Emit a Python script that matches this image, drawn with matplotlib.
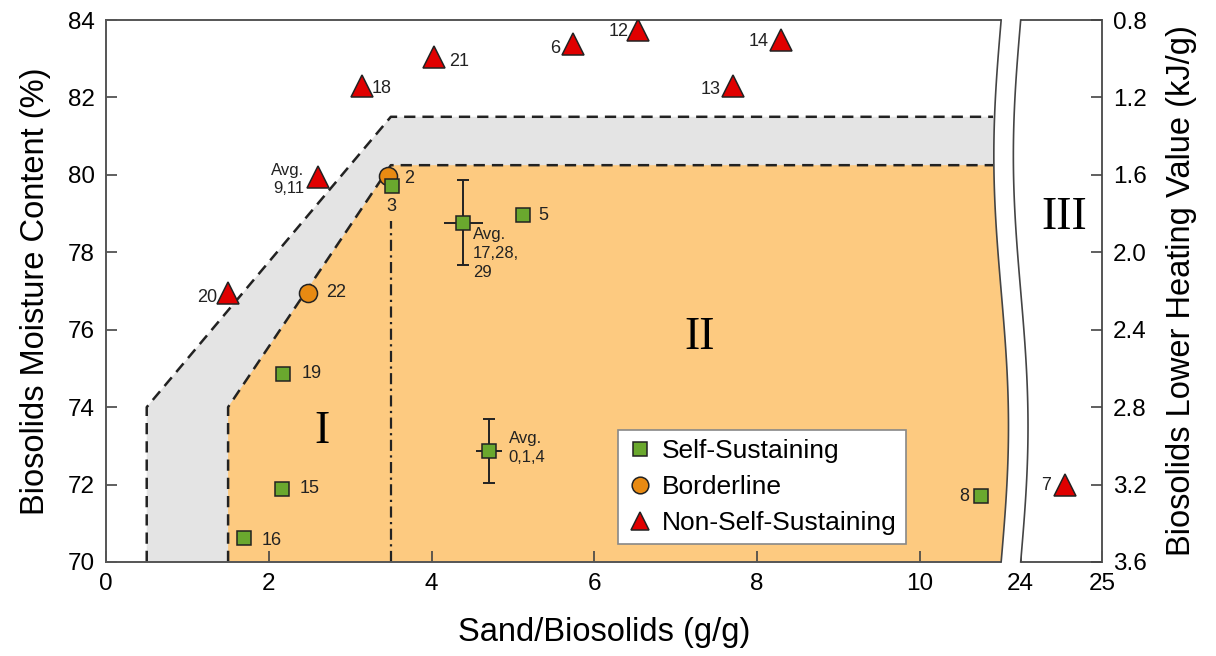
import numpy as np
import matplotlib
matplotlib.use('Agg')
import matplotlib.pyplot as plt
from matplotlib.lines import Line2D

plt.rcParams['font.family'] = ['Liberation Sans', 'DejaVu Sans']

# sand/biosolids ratio (g/g) and moisture content (%) for each run
self_x = [3.51, 5.13, 2.18, 2.16, 1.69, 10.75]
self_y = [79.72, 78.96, 74.86, 71.89, 70.62, 71.70]
self_lbl = ['3', '5', '19', '15', '16', '8']

avg_x = [4.39, 4.71]
avg_y = [78.76, 72.87]
avg_xerr = [0.24, 0.16]
avg_yerr = [1.10, 0.82]
avg_lbl = ['Avg.\n17,28,\n29', 'Avg.\n0,1,4']

border_x = [3.47, 2.48]
border_y = [79.97, 76.95]
border_lbl = ['2', '22']

non_x = [6.54, 5.74, 8.29, 7.71, 4.03, 3.14, 2.61, 1.50, 24.54]
non_y = [83.74, 83.38, 83.48, 82.30, 83.05, 82.30, 79.95, 76.95, 72.00]
non_lbl = ['12', '6', '14', '13', '21', '18', 'Avg.\n9,11', '20', '7']

# operating zone boundaries
outer_x = [0.5, 0.5, 3.5]
outer_y = [70, 74, 81.5]
inner_x = [1.5, 1.5, 3.5]
inner_y = [70, 74, 80.25]

mc_ticks = [70, 72, 74, 76, 78, 80, 82, 84]
lhv_ticks = [0.8, 1.2, 1.6, 2.0, 2.4, 2.8, 3.2, 3.6]

# broken x axis: 0..11 on the left, 24..25 on the right
LEFT_END = 11.0
RIGHT_START = 11.24


def ux(x):
    x = np.asarray(x, dtype=float)
    return np.where(x > 20, x - 24 + RIGHT_START, x)


def wave(y, base):
    y = np.asarray(y, dtype=float)
    return base + 0.09 * np.sin(2 * np.pi * (y - 70) / 14)


fig = plt.figure(figsize=(12.16, 6.56), dpi=100)
ax = fig.add_axes([0.0872, 0.1433, 0.8191, 0.8262])
ax.set_xlim(0, RIGHT_START + 1)
ax.set_ylim(70, 84)

orange_fill = '#fdca80'
gray_fill = '#e4e4e4'

# shaded zones, closed on the right by the wavy break
ys_o = np.linspace(81.5, 70, 60)
poly_o = list(zip(outer_x, outer_y)) + list(zip(wave(ys_o, LEFT_END), ys_o))
ax.fill([p[0] for p in poly_o], [p[1] for p in poly_o], color=gray_fill, lw=0, zorder=0.5)
ys_i = np.linspace(80.25, 70, 60)
poly_i = list(zip(inner_x, inner_y)) + list(zip(wave(ys_i, LEFT_END), ys_i))
ax.fill([p[0] for p in poly_i], [p[1] for p in poly_i], color=orange_fill, lw=0, zorder=0.6)

dash = dict(color='#222222', lw=1.8, ls=(0, (4.5, 2.8)), zorder=1)
ax.plot(outer_x + [LEFT_END - 0.1], outer_y + [outer_y[-1]], **dash)
ax.plot(inner_x + [LEFT_END - 0.1], inner_y + [inner_y[-1]], **dash)
ax.plot([3.5, 3.5], [70, 78.8], color='#222222', lw=1.6, ls=(0, (5, 2, 1, 2)), zorder=1)

# axis break
ys = np.linspace(70, 84, 100)
ys_pad = np.linspace(69.85, 84.15, 100)
gap_x = np.concatenate([wave(ys_pad, LEFT_END), wave(ys_pad[::-1], RIGHT_START)])
gap_y = np.concatenate([ys_pad, ys_pad[::-1]])
ax.fill(gap_x, gap_y, color='white', lw=0, zorder=3, clip_on=False)
ax.plot(wave(ys, LEFT_END), ys, color='#444444', lw=1.2, zorder=3.2, clip_on=False)
ax.plot(wave(ys, RIGHT_START), ys, color='#444444', lw=1.2, zorder=3.2, clip_on=False)

green = '#6aa82e'
orange = '#e88a12'
red = '#e00000'
edge = '#222222'

ax.errorbar(avg_x, avg_y, yerr=avg_yerr, fmt='none',
            ecolor='#222222', elinewidth=1.4, capsize=4, capthick=1.4, zorder=4)
ax.errorbar(avg_x, avg_y, xerr=avg_xerr, fmt='none',
            ecolor='#222222', elinewidth=1.4, capsize=0, zorder=4)
ax.plot(ux(self_x), self_y, 's', ms=10, mfc=green, mec=edge, mew=1.1, zorder=5)
ax.plot(avg_x, avg_y, 's', ms=10, mfc=green, mec=edge, mew=1.1, zorder=5)
ax.plot(border_x, border_y, 'o', ms=13, mfc=orange, mec=edge, mew=1.1, zorder=4.5)
ax.plot(ux(non_x), non_y, '^', ms=15.5, mfc=red, mec=edge, mew=1.1, zorder=5)

lbl_color = '#222222'
self_off = [(0, -15, 'center'), (11, 0, 'left'), (13, 0, 'left'),
            (13, 0, 'left'), (13, -1.5, 'left'), (-8, 0, 'right')]
for x, y, t, (dx, dy, ha) in zip(ux(self_x), self_y, self_lbl, self_off):
    ax.annotate(t, (x, y), xytext=(dx, dy), textcoords='offset points',
                ha=ha, va='center', fontsize=13, color=lbl_color, zorder=6)

avg_off = [(7, -3), (14, 2)]
avg_va = ['top', 'center']
for x, y, t, (dx, dy), va in zip(avg_x, avg_y, avg_lbl, avg_off, avg_va):
    ax.annotate(t, (x, y), xytext=(dx, dy), textcoords='offset points',
                ha='left', va=va, fontsize=12, color=lbl_color,
                linespacing=1.35, zorder=6)

border_off = [(11, -1.5), (13, 0)]
for x, y, t, (dx, dy) in zip(border_x, border_y, border_lbl, border_off):
    ax.annotate(t, (x, y), xytext=(dx, dy), textcoords='offset points',
                ha='left', va='center', fontsize=13, color=lbl_color, zorder=6)

non_off = [(-7, -1, 'right'), (-9, -3, 'right'), (-9, -1, 'right'),
           (-9, -3, 'right'), (11, -3.5, 'left'), (7, -2, 'left'),
           (-10, -2, 'right'), (-8, -3, 'right'), (-10, -1, 'right')]
for x, y, t, (dx, dy, ha) in zip(ux(non_x), non_y, non_lbl, non_off):
    fs = 12 if t.startswith('Avg') else 13
    ax.annotate(t, (x, y), xytext=(dx, dy), textcoords='offset points',
                ha=ha, va='center', fontsize=fs, color=lbl_color,
                linespacing=1.3, zorder=6)

# zone labels
serif = ['Liberation Serif', 'DejaVu Serif']
ax.text(2.65, 73.36, 'I', family=serif, fontsize=33, ha='center', va='center', zorder=6)
ax.text(7.3, 75.8, 'II', family=serif, fontsize=33, ha='center', va='center', zorder=6)
ax.text(RIGHT_START + 0.54, 78.9, 'III', family=serif, fontsize=33, ha='center', va='center', zorder=6)

# ticks and labels
ax.set_xticks([0, 2, 4, 6, 8, 10, RIGHT_START, RIGHT_START + 1])
ax.set_xticklabels(['0', '2', '4', '6', '8', '10', '24', '25'])
ax.set_yticks(mc_ticks)
ax.tick_params(direction='in', length=8, width=1.2, color='#444444',
               labelsize=17.5, pad=8)
for s in ax.spines.values():
    s.set_color('#555555')
    s.set_linewidth(1.4)
ax.set_xlabel('Sand/Biosolids (g/g)', fontsize=23.5, labelpad=16)
ax.set_ylabel('Biosolids Moisture Content (%)', fontsize=23.5, labelpad=12)

ax2 = ax.twinx()
ax2.set_ylim(3.6, 0.8)
ax2.set_yticks(lhv_ticks)
ax2.set_yticklabels(['%.1f' % v for v in lhv_ticks])
ax2.tick_params(direction='in', length=8, width=1.2, color='#444444',
                labelsize=17.5, pad=8)
for s in ax2.spines.values():
    s.set_visible(False)
ax2.set_ylabel('Biosolids Lower Heating Value (kJ/g)', fontsize=23.5, labelpad=14)

handles = [
    Line2D([], [], ls='none', marker='s', ms=10, mfc=green, mec=edge, mew=1.1),
    Line2D([], [], ls='none', marker='o', ms=12, mfc=orange, mec=edge, mew=1.1),
    Line2D([], [], ls='none', marker='^', ms=13, mfc=red, mec=edge, mew=1.1),
]
leg = ax.legend(handles, ['Self-Sustaining', 'Borderline', 'Non-Self-Sustaining'],
                loc='lower left', bbox_to_anchor=(0.514, 0.033), borderaxespad=0,
                fontsize=19, fancybox=False, framealpha=1, edgecolor='#888888',
                handletextpad=0.3, handlelength=1.0, borderpad=0.35,
                labelspacing=0.45)
leg.set_zorder(7)
leg.get_frame().set_linewidth(1.2)

fig.savefig('out.png', dpi=100)
